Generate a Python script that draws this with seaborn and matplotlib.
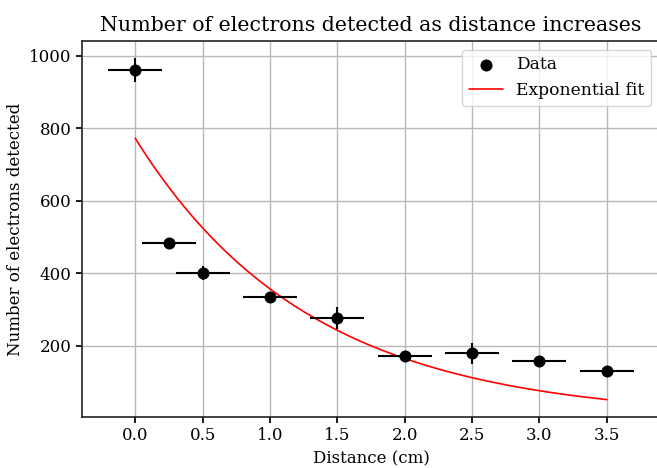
import numpy as np
import pandas as pd
import seaborn as sns
import matplotlib.pyplot as plt

# measured counts vs distance
distance = [0.0, 0.25, 0.5, 1.0, 1.5, 2.0, 2.5, 3.0, 3.5]
counts = [960, 483, 400, 334, 276, 172, 179, 157, 130]
count_err = [32, 12, 19, 12, 30, 10, 29, 10, 10]
dist_err = [0.2] * len(distance)

# exponential fit parameters N = a * exp(-b * d)
fit_a = 772
fit_b = 0.771

sns.set_theme(style="whitegrid", rc={
    "axes.edgecolor": "#222222",
    "axes.linewidth": 1.2,
    "grid.color": "#b8b8b8",
    "grid.linewidth": 1.0,
    "xtick.bottom": True,
    "ytick.left": True,
    "xtick.major.size": 4,
    "ytick.major.size": 4,
    "xtick.color": "black",
    "ytick.color": "black",
    "text.color": "black",
    "axes.labelcolor": "black",
})
plt.rcParams['font.family'] = ['DejaVu Serif']

df = pd.DataFrame({"Distance": distance, "Counts": counts})
d_fit = np.linspace(min(distance), max(distance), 200)
fit_df = pd.DataFrame({"Distance": d_fit, "Fit": fit_a * np.exp(-fit_b * d_fit)})

fig = plt.figure(figsize=(6.57, 4.68), dpi=100)
ax = fig.add_axes([82 / 657, 1 - 417 / 468, (660 - 82) / 657, (417 - 41) / 468])

ax.errorbar(distance, counts, xerr=dist_err, yerr=count_err, fmt="none",
            ecolor="black", elinewidth=1.5, zorder=3)
sns.scatterplot(data=df, x="Distance", y="Counts", color="black", s=75,
                edgecolor="black", linewidth=0, label="Data", ax=ax, zorder=4)
sns.lineplot(data=fit_df, x="Distance", y="Fit", color="red", linewidth=1.2,
             label="Exponential fit", ax=ax, zorder=2)

ax.set_xlim(-0.395, 3.895)
ax.set_ylim(4, 1040)
ax.set_xticks([0.0, 0.5, 1.0, 1.5, 2.0, 2.5, 3.0, 3.5])
ax.set_xlabel("Distance (cm)", fontsize=12, labelpad=4)
ax.set_ylabel("Number of electrons detected", fontsize=12)
ax.set_title("Number of electrons detected as distance increases", fontsize=14.8, pad=7)
ax.tick_params(labelsize=12)
ax.legend(loc="upper right", fontsize=12.3, framealpha=0.8)

fig.savefig("out.png", dpi=100)
